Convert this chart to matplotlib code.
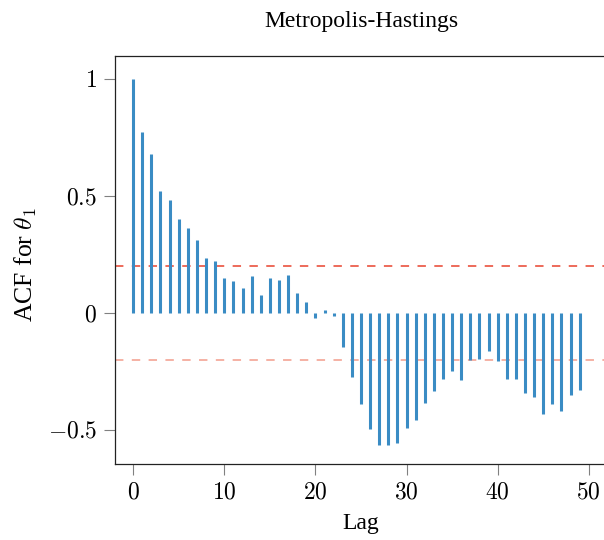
import matplotlib
matplotlib.use("Agg")
import matplotlib.pyplot as plt
from matplotlib.ticker import FuncFormatter

lags = list(range(50))
acf = [1.0, 0.776, 0.680, 0.521, 0.484, 0.402, 0.362, 0.312, 0.235, 0.225,
       0.148, 0.136, 0.106, 0.157, 0.077, 0.148, 0.140, 0.165, 0.086, 0.047,
       -0.022, 0.013, -0.011, -0.144, -0.275, -0.389, -0.494, -0.563, -0.565, -0.556,
       -0.492, -0.456, -0.384, -0.334, -0.281, -0.248, -0.285, -0.200, -0.195, -0.163,
       -0.205, -0.281, -0.281, -0.342, -0.361, -0.432, -0.388, -0.419, -0.351, -0.331]
conf_band = 0.2
xticks = [0, 10, 20, 30, 40, 50]
yticks = [-0.5, 0, 0.5, 1]
title = "Metropolis-Hastings"
xlabel = "Lag"
ylabel = r"ACF for $\theta_1$"

plt.rcParams['font.family'] = ['Liberation Serif', 'DejaVu Serif']
plt.rcParams['mathtext.fontset'] = 'cm'

fig = plt.figure(figsize=(6.04, 5.4), dpi=100)
ax = fig.add_axes([115.3/604, (540-464.3)/540, (607-115.3)/604, (464.3-56)/540])

ax.vlines(lags, 0, acf, color='#3a8cc4', linewidth=2.2, zorder=3)
ax.axhline(conf_band, color='#e8432e', linestyle=(0, (5.5, 5.5)), linewidth=1.1, zorder=2)
ax.axhline(-conf_band, color='#f29c8c', linestyle=(0, (5.5, 5.5)), linewidth=1.1, zorder=2)

ax.set_xlim(-1.96, 52)
ax.set_ylim(-0.647, 1.1)
ax.set_xticks(xticks)
ax.set_yticks(yticks)

def fmt(v, pos):
    s = ('%g' % v)
    return '$' + s + '$'
ax.xaxis.set_major_formatter(FuncFormatter(fmt))
ax.yaxis.set_major_formatter(FuncFormatter(fmt))

ax.tick_params(direction='out', length=8, width=0.8, color='#808080', labelsize=17, pad=5)
for sp in ax.spines.values():
    sp.set_color('#222222')
    sp.set_linewidth(0.9)

ax.set_title(title, fontsize=17, pad=21)
ax.set_xlabel(xlabel, fontsize=17, labelpad=7)
ax.set_ylabel(ylabel, fontsize=18.5)
ax.yaxis.set_label_coords(-0.155, 0.49)

fig.savefig("out.png", dpi=100)
